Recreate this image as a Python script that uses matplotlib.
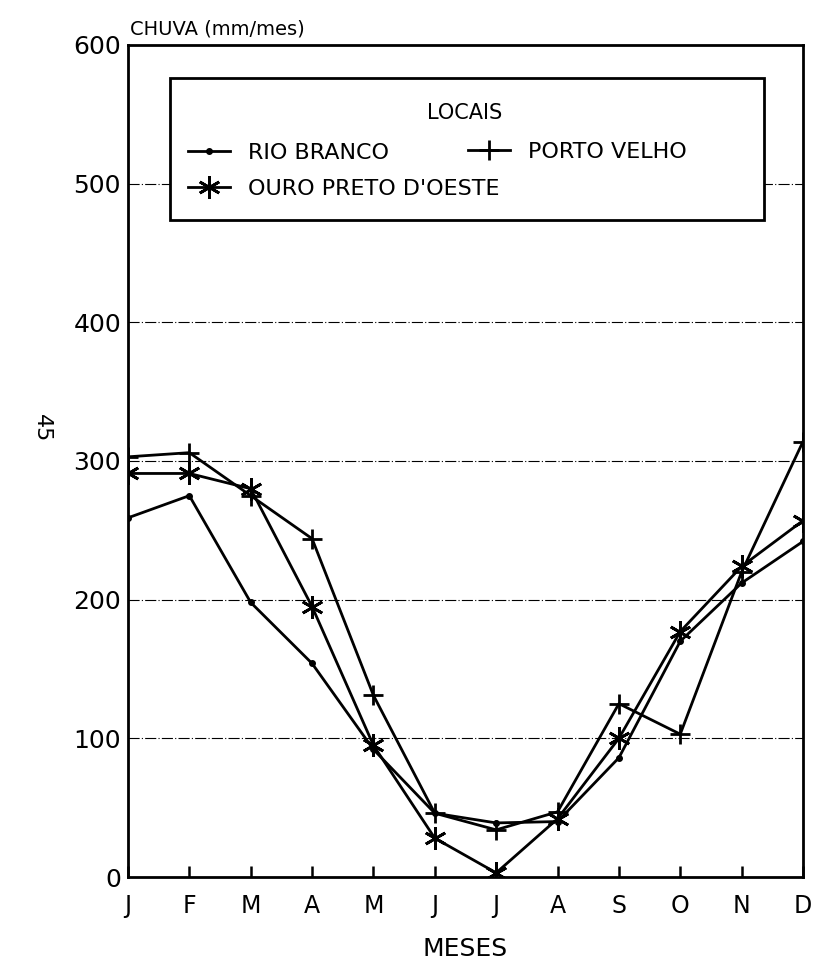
import matplotlib.pyplot as plt
from matplotlib.patches import Rectangle

plt.rcParams['font.family'] = ['DejaVu Sans']

# dados (chuva mensal, mm/mes)
meses = ['J', 'F', 'M', 'A', 'M', 'J', 'J', 'A', 'S', 'O', 'N', 'D']
rio_branco = [259, 275, 198, 154, 92, 46, 39, 40, 86, 170, 212, 242]
porto_velho = [303, 306, 275, 244, 131, 46, 34, 47, 125, 103, 220, 314]
ouro_preto = [291, 291, 280, 195, 95, 28, 3, 42, 100, 177, 224, 257]
y_ticks = [0, 100, 200, 300, 400, 500, 600]

x = list(range(len(meses)))

fig = plt.figure(figsize=(8.13, 9.63), dpi=100)
ax = fig.add_axes([0.1574, 0.0893, 0.8303, 0.864])

l1, = ax.plot(x, rio_branco, color='black', lw=2.0, marker='o', ms=4,
              label='RIO BRANCO')
l3, = ax.plot(x, ouro_preto, color='black', lw=2.0, marker=(6, 2, 0), ms=16,
              mew=2.0, label="OURO PRETO D'OESTE")
l2, = ax.plot(x, porto_velho, color='black', lw=2.0, marker='+', ms=15,
              mew=2.0, label='PORTO VELHO')

# linhas de grade
for v in y_ticks[1:-1]:
    ax.axhline(v, color='black', lw=0.8, ls=(0, (10, 2, 1, 2)), zorder=0)

ax.set_xlim(0, 11)
ax.set_ylim(0, 600)
ax.set_xticks(x)
ax.set_xticklabels(meses)
ax.set_yticks(y_ticks)
ax.tick_params(axis='x', direction='in', length=8, width=1.8, pad=12,
               labelsize=17)
ax.tick_params(axis='y', direction='in', length=0, pad=5, labelsize=18)
for s in ax.spines.values():
    s.set_linewidth(2.0)

ax.set_xlabel('MESES', fontsize=18, labelpad=14)
ax.text(0.003, 1.008, 'CHUVA (mm/mes)', transform=ax.transAxes,
        ha='left', va='bottom', fontsize=14)

# caixa da legenda
ax.add_patch(Rectangle((0.062, 0.790), 0.880, 0.170, transform=ax.transAxes,
                       fill=True, facecolor='white', edgecolor='black',
                       lw=2.0, zorder=3))
ax.text(0.499, 0.918, 'LOCAIS', transform=ax.transAxes, ha='center',
        va='center', fontsize=15, zorder=5)

opts = dict(frameon=False, loc='center left', borderaxespad=0, borderpad=0,
            fontsize=16, handlelength=1.9, handletextpad=0.8,
            labelspacing=0.7)
leg_a = ax.legend(handles=[l1, l3], bbox_to_anchor=(0.089, 0.8486), **opts)
leg_a.set_zorder(5)
ax.add_artist(leg_a)
leg_b = ax.legend(handles=[l2], bbox_to_anchor=(0.503, 0.8714), **opts)
leg_b.set_zorder(5)

fig.text(0.052, 0.555, '45', rotation=270, fontsize=16, ha='center',
         va='center')

fig.savefig('out.png', dpi=100)
